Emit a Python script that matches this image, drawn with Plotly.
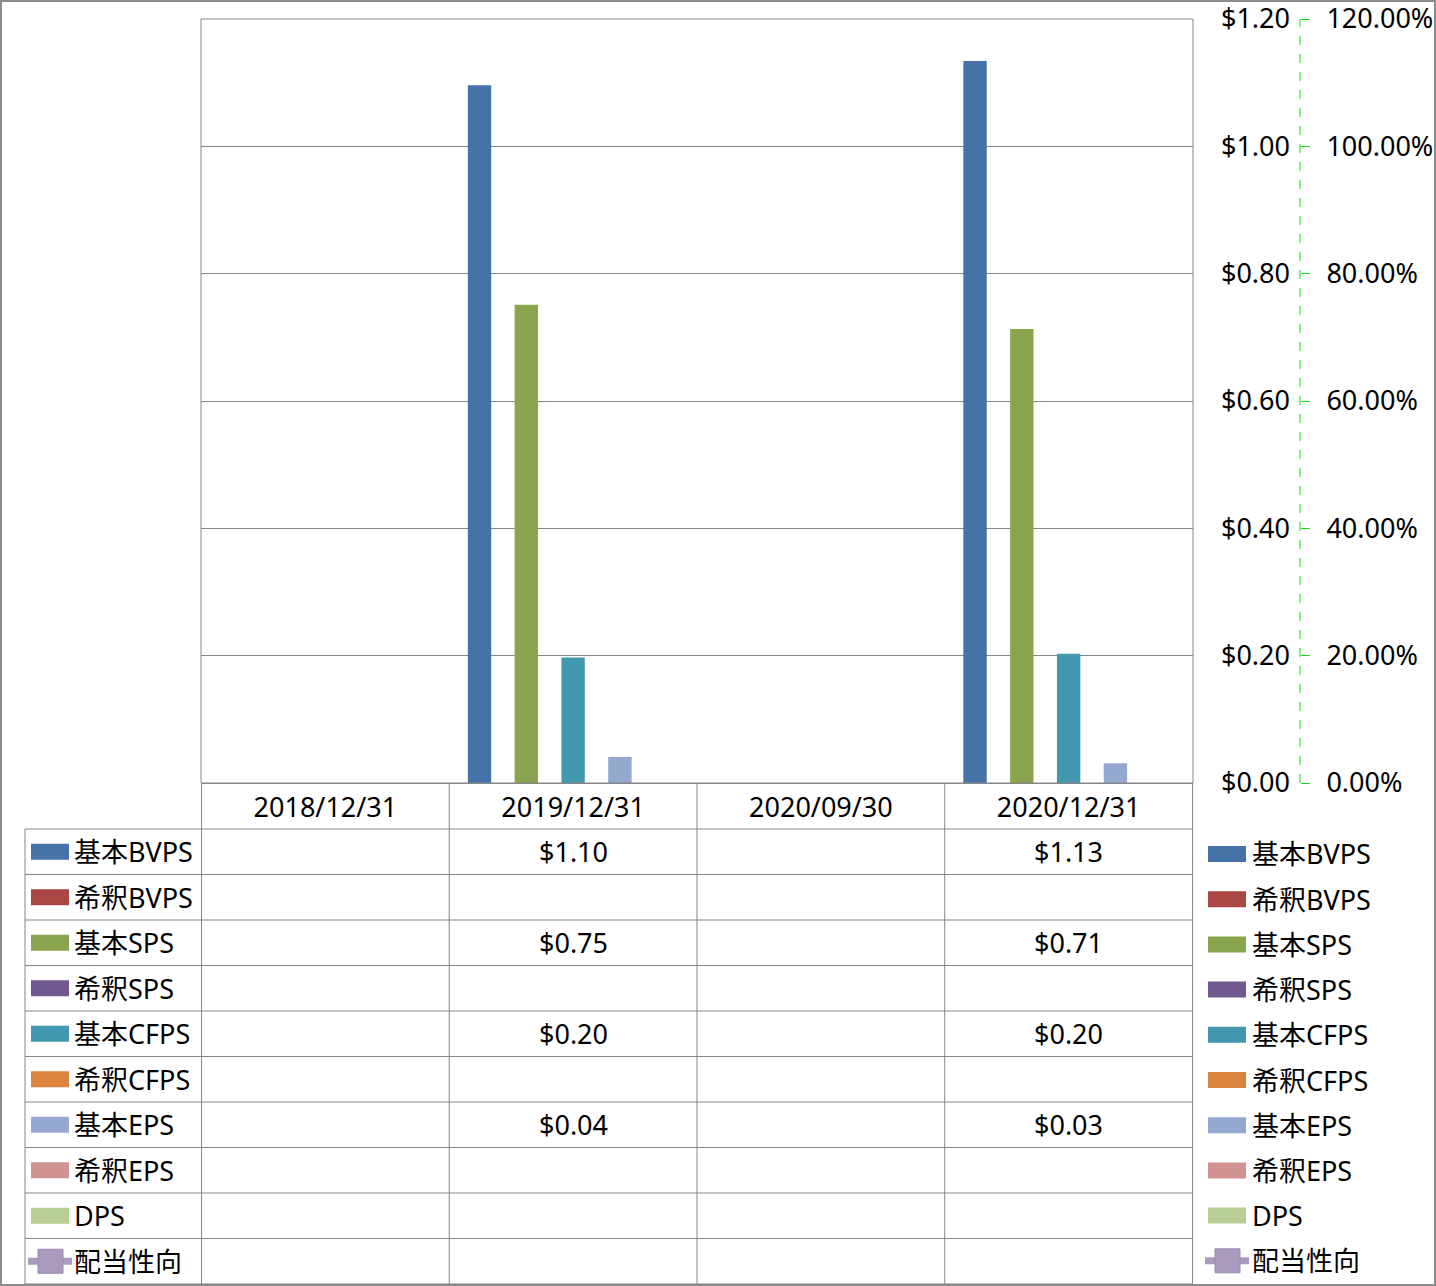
import plotly.graph_objects as go

W, H = 1436, 1286

categories = ["2018/12/31", "2019/12/31", "2020/09/30", "2020/12/31"]
bar_names = ["基本BVPS", "希釈BVPS", "基本SPS", "希釈SPS", "基本CFPS", "希釈CFPS", "基本EPS", "希釈EPS", "DPS"]
bar_colors = ["#4572A7", "#AA4643", "#89A54E", "#71588F", "#4198AF", "#DB843D", "#93A9CF", "#D19392", "#B9CD96"]
bar_values = {
    "基本BVPS": [None, 1.096, None, 1.134],
    "希釈BVPS": [None, None, None, None],
    "基本SPS": [None, 0.751, None, 0.713],
    "希釈SPS": [None, None, None, None],
    "基本CFPS": [None, 0.197, None, 0.203],
    "希釈CFPS": [None, None, None, None],
    "基本EPS": [None, 0.041, None, 0.031],
    "希釈EPS": [None, None, None, None],
    "DPS": [None, None, None, None],
}
line_name = "配当性向"
line_color = "#A99BBD"
line_values = [None, None, None, None]

left_tick_vals = [0, 0.2, 0.4, 0.6, 0.8, 1.0, 1.2]

FONT = "Noto Sans, Noto Sans CJK JP, sans-serif"
FS = 27
GRID = "#868686"


def X(p):
    return p / W


def Y(p):
    return 1 - p / H


fig = go.Figure()
for name, col in zip(bar_names, bar_colors):
    fig.add_trace(go.Bar(x=categories, y=bar_values[name], name=name,
                         marker=dict(color=col, line=dict(width=0)),
                         showlegend=False, yaxis="y"))
fig.add_trace(go.Scatter(x=categories, y=line_values, name=line_name, yaxis="y2",
                         mode="lines+markers", line=dict(color=line_color, width=7),
                         marker=dict(symbol="square", size=22, color=line_color),
                         showlegend=False))

plot_l, plot_r, plot_t, plot_b = 201, 1193, 19, 783
axis_x = 1300

fig.update_layout(
    width=W, height=H, autosize=False,
    margin=dict(l=0, r=0, t=0, b=0, pad=0, autoexpand=False),
    showlegend=False,
    paper_bgcolor="white", plot_bgcolor="white",
    barmode="group", bargap=0.15, bargroupgap=0,
    font=dict(family=FONT, size=FS, color="black"),
    xaxis=dict(domain=[X(plot_l), X(plot_r)], type="category", automargin=False,
               showgrid=False, ticks="", showline=True, linecolor=GRID, linewidth=1,
               tickfont=dict(size=FS), ticklabelstandoff=1, zeroline=False),
    yaxis=dict(domain=[Y(plot_b), Y(plot_t)], range=[0, 1.2], tickvals=left_tick_vals,
               tickformat="$.2f", anchor="free", position=X(axis_x), side="left", automargin=False,
               ticklabeloverflow="allow",
               showgrid=True, gridcolor=GRID, gridwidth=1, zeroline=False,
               ticks="", ticklabelstandoff=10, showline=False, tickfont=dict(size=FS)),
    yaxis2=dict(range=[0, 1.2], tickvals=left_tick_vals, tickformat=".2%", automargin=False,
                ticklabeloverflow="allow",
                overlaying="y", anchor="free", position=X(axis_x), side="right",
                showgrid=False, zeroline=False, ticks="outside", ticklen=9,
                tickcolor="#11DD11", tickwidth=1, ticklabelstandoff=11,
                showline=False, tickfont=dict(size=FS)),
)

shapes = []
# outer border
shapes.append(dict(type="rect", xref="paper", yref="paper", x0=X(1), x1=X(W - 1), y0=Y(H - 1), y1=Y(1),
                   line=dict(color="#8C8C8C", width=2)))
# plot area border
shapes.append(dict(type="rect", xref="paper", yref="paper", x0=X(plot_l), x1=X(plot_r), y0=Y(plot_b), y1=Y(plot_t),
                   line=dict(color=GRID, width=1)))
# secondary axis dashed line
shapes.append(dict(type="line", xref="paper", yref="paper", x0=X(axis_x), x1=X(axis_x), y0=Y(plot_b), y1=Y(plot_t),
                   line=dict(color="#11DD11", width=1, dash="dash")))

# data table
row_top = 829
row_h = (1284 - 829) / 10
tab_left = 25
n_rows = len(bar_names) + 1
for i in range(n_rows + 1):
    yy = row_top + i * row_h
    shapes.append(dict(type="line", xref="paper", yref="paper", x0=X(tab_left), x1=X(plot_r), y0=Y(yy), y1=Y(yy),
                       line=dict(color=GRID, width=1)))
for i in range(len(categories) + 1):
    shapes.append(dict(type="line", xref="x", yref="paper", x0=i - 0.5, x1=i - 0.5, y0=Y(plot_b), y1=Y(1284),
                       line=dict(color=GRID, width=1)))
shapes.append(dict(type="line", xref="paper", yref="paper", x0=X(tab_left), x1=X(tab_left), y0=Y(row_top), y1=Y(1284),
                   line=dict(color=GRID, width=1)))

annotations = []
all_names = bar_names + [line_name]
all_colors = bar_colors + [line_color]


def add_key(x0, yc, color, is_line):
    if is_line:
        shapes.append(dict(type="line", xref="paper", yref="paper", x0=X(x0 - 3), x1=X(x0 + 41), y0=Y(yc), y1=Y(yc),
                           line=dict(color=color, width=7)))
        shapes.append(dict(type="rect", xref="paper", yref="paper", x0=X(x0 + 7), x1=X(x0 + 32), y0=Y(yc + 12),
                           y1=Y(yc - 12), fillcolor=color, line=dict(color="#9A8AB0", width=1)))
    else:
        shapes.append(dict(type="rect", xref="paper", yref="paper", x0=X(x0), x1=X(x0 + 38), y0=Y(yc + 8),
                           y1=Y(yc - 8), fillcolor=color, line=dict(width=0)))


for r, (name, col) in enumerate(zip(all_names, all_colors)):
    yc = row_top + (r + 0.5) * row_h
    is_line = name == line_name
    # left table key
    add_key(31, yc, col, is_line)
    annotations.append(dict(xref="paper", yref="paper", x=X(72), y=Y(yc), text=name, showarrow=False,
                            xanchor="left", yanchor="middle", font=dict(size=FS, family=FONT)))
    # right legend
    yl = 854 + r * 45.2
    add_key(1208, yl, col, is_line)
    annotations.append(dict(xref="paper", yref="paper", x=X(1250), y=Y(yl), text=name, showarrow=False,
                            xanchor="left", yanchor="middle", font=dict(size=FS, family=FONT)))
    # values
    vals = bar_values[name] if not is_line else line_values
    for c, v in zip(categories, vals):
        if v is None:
            continue
        txt = f"{v:.2%}" if is_line else f"${v:.2f}"
        annotations.append(dict(xref="x", yref="paper", x=c, y=Y(yc), text=txt, showarrow=False,
                                xanchor="center", yanchor="middle", font=dict(size=FS, family=FONT)))

fig.update_layout(shapes=shapes, annotations=annotations)
fig.write_html("out.html")
